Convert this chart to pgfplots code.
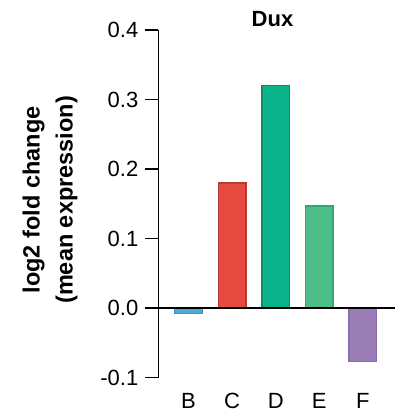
\documentclass[border=0pt]{standalone}
\usepackage{fontspec}
\setmainfont{Liberation Sans}
\usepackage{pgfplots}
\pgfplotsset{compat=1.18}
\definecolor{cB}{HTML}{4DAAD5}
\definecolor{cBd}{HTML}{3A8FBC}
\definecolor{cC}{HTML}{E64A40}
\definecolor{cCd}{HTML}{B83A34}
\definecolor{cD}{HTML}{0BB38A}
\definecolor{cDd}{HTML}{0B8C6C}
\definecolor{cE}{HTML}{4CBD87}
\definecolor{cEd}{HTML}{2FA86D}
\definecolor{cF}{HTML}{987DB7}
\definecolor{cFd}{HTML}{8A6CAD}
\begin{document}
\begin{tikzpicture}
\useasboundingbox (-158.5pt,-38.5pt) rectangle (244.5pt,377.5pt);
\begin{axis}[
  at={(0pt,0pt)}, anchor=south west,
  scale only axis, width=236.5pt, height=347.5pt,
  xmin=-0.688, xmax=4.736, ymin=-0.1, ymax=0.4,
  axis lines*=left,
  x axis line style={draw=none},
  y axis line style={line width=1.3pt, -},
  xtick={0,1,2,3,4}, xticklabels={B,C,D,E,F},
  x tick style={draw=none},
  ytick={-0.1,0,0.1,0.2,0.3,0.4},
  yticklabels={-0.1,0.0,0.1,0.2,0.3,0.4},
  y tick style={line width=1.3pt, black},
  tick align=outside,
  major tick length=13pt,
  tick label style={font=\fontsize{22}{26}\selectfont},
  xticklabel style={anchor=base, inner sep=0pt, yshift=-17.5pt},
  yticklabel style={anchor=east, inner sep=0pt, xshift=-7pt},
  ylabel={\textbf{log2 fold change}\\\textbf{(mean expression)}},
  ylabel style={at={(axis description cs:-0.4588,0.511)}, anchor=center, rotate=0, align=center, inner sep=0pt, font=\fontsize{23.5}{33}\selectfont},
  clip=false,
]
\addplot[ybar, bar shift=0pt, bar width=27.5pt, fill=cB, draw=cBd, line width=1.4pt] coordinates {(0,-0.008)};
\addplot[ybar, bar shift=0pt, bar width=27.5pt, fill=cC, draw=cCd, line width=1.4pt] coordinates {(1,0.180)};
\addplot[ybar, bar shift=0pt, bar width=27.5pt, fill=cD, draw=cDd, line width=1.4pt] coordinates {(2,0.320)};
\addplot[ybar, bar shift=0pt, bar width=27.5pt, fill=cE, draw=cEd, line width=1.4pt] coordinates {(3,0.147)};
\addplot[ybar, bar shift=0pt, bar width=27.5pt, fill=cF, draw=cFd, line width=1.4pt] coordinates {(4,-0.077)};
\addplot[black, line width=1.3pt, no marks] coordinates {(-0.688,0) (4.736,0)};
\node[anchor=base, inner sep=0pt, font=\fontsize{22}{26}\selectfont\bfseries] at (rel axis cs:0.482,1.0095) {Dux};
\end{axis}
\end{tikzpicture}
\end{document}
